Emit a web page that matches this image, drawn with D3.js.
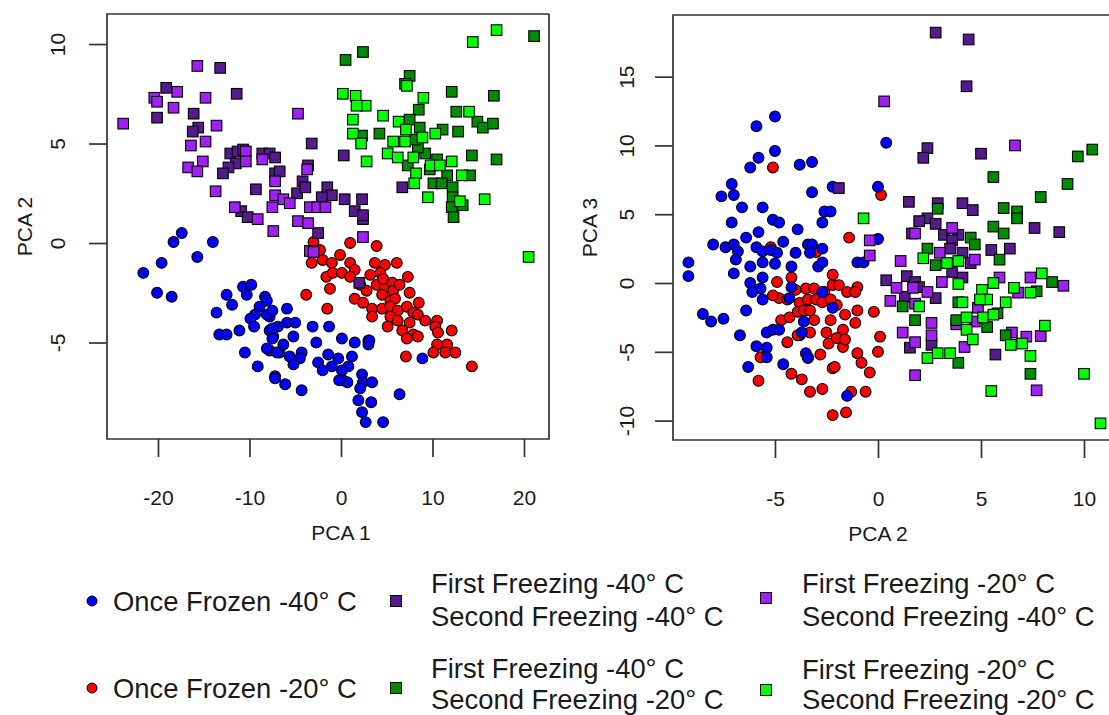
<!DOCTYPE html>
<html><head><meta charset="utf-8">
<script src="https://cdn.jsdelivr.net/npm/d3@7"></script>
<style>
html,body{margin:0;padding:0;background:#fff;}
svg text{font-family:"Liberation Sans",Arial,sans-serif;fill:#1a1a1a;}
</style></head>
<body><svg id="chart" width="1109" height="715"></svg>
<script>
// ---------------- DATA ----------------
// Left panel: [PCA 1, PCA 2]
const leftOnce40 = [[-5.9,-3.3],[-5.9,-4.0],[-5.0,-4.0],[-6.9,-4.2],[-7.8,-3.7],[-7.8,-4.4],[-3.1,-4.2],[-1.3,-4.2],[-7.4,-4.7],[-5.2,-4.7],[-6.3,-5.1],[-2.7,-5.0],[0.1,-4.8],[1.5,-5.0],[3.0,-5.1],[3.1,-4.9],[-7.8,-5.4],[-6.7,-5.5],[-5.6,-5.7],[-4.3,-5.5],[-4.5,-5.8],[-5.2,-6.1],[-2.5,-6.0],[-1.4,-5.6],[-0.3,-5.8],[1.2,-5.7],[0.8,-6.2],[0.1,-6.4],[-1.0,-6.2],[-2.0,-6.4],[0.2,-6.9],[0.7,-7.0],[-0.2,-6.9],[2.3,-6.6],[2.4,-7.0],[3.4,-7.0],[2.1,-7.3],[-7.2,-6.7],[-6.1,-7.1],[-4.3,-7.4],[6.4,-7.6],[1.9,-7.9],[3.3,-8.0],[2.3,-8.5],[2.7,-9.0],[4.6,-9.0],[8.9,-5.8],[-17.4,0.5],[-18.3,0.05],[-14.0,0.05],[-15.7,-0.7],[-19.6,-1.0],[-21.6,-1.5],[-20.1,-2.5],[-18.5,-2.7],[-12.5,-2.6],[-11.9,-3.1],[-10.7,-2.2],[-9.8,-2.1],[-10.3,-2.6],[-13.6,-3.5],[-8.3,-2.7],[-8.1,-2.9],[-8.9,-3.2],[-9.4,-3.6],[-9.9,-3.8],[-9.5,-4.2],[-8.1,-3.6],[-7.5,-3.4],[-13.3,-4.6],[-12.5,-4.6],[-11.1,-4.4],[-7.5,-4.3],[-7.5,-4.8],[-10.5,-5.5],[-8.1,-5.3],[-7.0,-5.5],[-9.1,-6.2],[-7.2,-6.8]];
const leftOnce20 = [[1.0,0.0],[3.9,-0.15],[-3.0,0.05],[-3.2,-1.0],[-2.0,-0.85],[-1.0,-1.0],[-1.6,-1.7],[-0.9,-1.5],[0.1,-1.5],[1.0,-1.0],[1.5,-1.35],[1.0,-1.7],[-1.2,-2.3],[-3.8,-2.6],[-1.5,-3.3],[3.7,-1.0],[4.8,-1.1],[6.1,-1.0],[4.3,-1.5],[3.2,-1.6],[3.9,-2.1],[4.8,-2.2],[5.6,-2.0],[7.3,-1.7],[5.7,-2.4],[7.5,-2.5],[1.5,-2.8],[2.4,-3.0],[4.5,-2.6],[5.4,-2.9],[5.9,-2.8],[3.4,-3.3],[4.5,-3.3],[5.4,-3.2],[6.2,-3.4],[7.2,-3.2],[7.9,-3.5],[8.5,-3.0],[3.4,-3.7],[5.4,-3.7],[6.2,-3.9],[8.4,-3.6],[5.1,-4.2],[6.7,-4.4],[7.5,-4.0],[7.9,-4.6],[8.4,-4.7],[7.2,-4.8],[10.5,-3.9],[10.3,-4.2],[12.1,-4.4],[10.6,-4.5],[10.5,-5.1],[11.6,-5.1],[11.4,-5.5],[12.5,-5.5],[10.1,-5.5],[7.1,-5.7],[14.3,-6.2],[3.0,-4.9],[-2.3,-0.35],[-0.1,-0.6],[2.1,-2.1],[2.8,-2.4],[4.6,-1.8],[6.4,-2.1],[9.2,-3.9]];
const leftFF40SF40 = [[-13.2,8.8],[-19.1,7.8],[-11.4,7.5],[-20.1,6.3],[-16.1,6.5],[-15.6,5.8],[-16.2,5.6],[-12.1,4.5],[-11.3,4.6],[-10.7,4.7],[-11.5,4.0],[-12.3,3.8],[-12.9,3.5],[-8.6,4.5],[-7.8,4.5],[-7.2,3.5],[-9.3,2.7],[-10.9,1.6],[-10.2,1.3],[-2.5,0.5],[2.4,1.2],[2.0,-2.0],[-3.2,5.0],[0.3,4.4],[-7.2,4.3],[-6.7,3.6],[-3.6,3.9],[-4.2,3.1],[-4.8,2.5],[-3.9,2.8],[-1.5,2.8],[-1.0,2.4],[-2.1,2.3],[0.4,2.2],[2.3,2.2],[1.5,1.6],[2.4,1.4],[6.7,2.8]];
const leftFF20SF40 = [[-15.7,8.9],[-17.9,7.6],[-20.4,7.3],[-20.1,7.1],[-14.8,7.3],[-18.3,6.8],[-23.8,6.0],[-13.6,5.9],[-14.8,5.1],[-16.4,4.9],[-10.4,4.6],[-10.4,4.1],[-15.1,4.1],[-16.7,3.8],[-15.7,3.6],[-8.6,4.2],[-13.7,2.6],[-7.2,3.1],[-7.2,2.4],[-11.6,1.8],[-9.1,1.2],[-7.5,1.8],[-7.4,0.6],[-4.7,6.5],[-3.7,3.7],[-6.3,2.2],[-5.6,2.0],[-3.4,1.8],[-2.6,1.8],[-1.7,1.8],[-4.7,1.1],[-3.6,1.0],[2.4,0.3],[-3.4,-0.4],[-3.0,-0.45]];
const leftFF40SF20 = [[0.5,9.2],[2.4,9.6],[21.1,10.4],[7.5,8.4],[7.0,8.0],[12.1,7.6],[16.7,7.4],[8.5,6.7],[12.6,6.6],[14.9,6.1],[15.5,5.8],[16.6,6.0],[7.5,6.2],[4.2,5.5],[2.3,5.4],[8.6,5.8],[11.1,5.7],[12.8,5.6],[9.2,4.5],[8.4,4.8],[14.3,4.4],[17.0,4.2],[7.3,3.9],[10.5,4.2],[14.1,3.4],[11.6,3.4],[10.1,3.0],[11.0,3.0],[12.2,2.8],[12.2,2.3],[12.1,1.8],[13.3,1.9],[12.3,1.3],[8.1,5.2],[9.7,3.7]];
const leftFF20SF20 = [[14.4,10.1],[17.0,10.7],[7.2,7.9],[0.2,7.5],[1.6,7.4],[2.7,6.9],[1.7,6.9],[9.0,7.3],[14.0,6.6],[4.6,6.4],[1.3,6.2],[6.3,6.1],[1.3,5.5],[2.2,5.0],[7.1,5.7],[7.0,5.1],[8.9,5.3],[10.3,5.5],[5.7,5.1],[5.1,4.5],[6.2,4.3],[7.9,4.3],[2.8,4.1],[12.1,4.1],[9.8,3.9],[10.8,3.9],[8.2,3.5],[13.2,3.4],[8.0,3.0],[13.0,2.1],[9.5,2.3],[15.7,2.2],[20.5,-0.7]];

// Right panel: [PCA 2, PCA 3]
const rightOnce40 = [[-5.0,12.1],[-5.9,11.4],[-5.0,9.6],[-5.8,9.1],[-6.2,8.4],[-3.8,8.6],[-3.2,8.8],[-7.1,7.2],[-7.6,6.3],[-7.0,6.4],[-6.6,5.5],[-5.6,5.5],[-3.2,6.6],[-2.2,7.0],[-2.6,5.2],[-2.7,4.4],[-5.1,4.6],[-4.8,4.4],[-7.1,4.4],[-5.8,3.7],[-3.9,3.9],[-6.4,3.3],[-8.0,2.8],[-7.4,2.6],[-7.0,2.8],[-6.8,2.3],[-5.9,2.6],[-5.6,2.3],[-5.2,2.4],[-4.9,2.2],[-4.6,3.0],[-4.0,2.2],[-3.4,2.8],[-3.2,2.8],[-3.3,2.2],[-2.7,2.5],[-6.9,1.7],[-9.2,1.5],[-9.2,0.5],[-6.2,1.2],[-5.6,1.5],[-5.0,1.4],[-4.2,1.2],[-2.9,1.2],[-2.7,1.5],[-7.0,0.7],[-6.2,0.0],[-5.6,0.4],[-5.7,-0.4],[-5.6,-1.2],[-6.1,-0.65],[-4.2,-0.3],[-4.3,-1.1],[-2.7,-0.65],[-6.4,-2.0],[-8.5,-2.25],[-8.1,-2.8],[-7.5,-2.6],[-6.7,-3.8],[-5.4,-3.6],[-5.1,-3.4],[-4.8,-3.4],[-3.6,-2.8],[-3.7,-3.6],[-5.9,-4.6],[-5.4,-4.7],[-5.4,-5.4],[-3.5,-5.1],[-3.4,-5.4],[-6.3,-6.1],[-4.6,-5.9],[0.4,10.2],[0.0,7.0],[0.0,3.2],[-1.0,1.5],[-0.7,1.5],[-2.2,-1.8],[-1.5,-8.2],[-2.3,5.2]];
const rightOnce20 = [[-5.1,8.4],[0.15,6.4],[-1.4,3.3],[-5.2,2.6],[-3.0,2.25],[-4.9,0.07],[-4.2,0.4],[-3.5,-0.4],[-3.1,-0.4],[-2.6,-0.65],[-2.2,-0.15],[-4.8,-1.1],[-4.4,-1.2],[-3.8,-1.45],[-3.4,-1.2],[-3.0,-1.2],[-2.7,-1.4],[-2.0,-1.6],[-4.7,-2.7],[-4.3,-2.5],[-3.9,-2.1],[-3.6,-2.0],[-3.3,-2.0],[-3.8,-3.8],[-3.3,-3.6],[-4.4,-4.3],[-3.9,-3.8],[-2.5,-3.6],[-2.4,-4.4],[-2.2,-6.2],[-3.4,-5.45],[-5.7,-5.4],[-4.2,-6.6],[-3.7,-7.0],[-5.8,-7.1],[-3.3,-7.9],[-2.7,-7.7],[-2.2,0.6],[-1.9,-0.15],[-1.5,-0.65],[-1.0,-0.3],[-1.1,-0.65],[-0.2,-2.1],[-1.0,-2.0],[-1.1,-2.9],[-1.7,-3.4],[-2.0,-4.0],[-1.7,-4.65],[-1.6,-4.1],[0.1,-3.9],[0.0,-5.0],[-1.0,-5.1],[-0.8,-5.8],[-2.1,-6.1],[-0.4,-6.5],[-0.6,-7.9],[-1.3,-7.9],[-1.55,-9.4],[-2.2,-9.6],[-2.3,-1.2],[-5.1,-0.9],[-4.0,-0.5],[-3.1,-2.7],[-2.3,-2.7],[-1.6,-2.3],[-2.8,-5.2]];
const rightFF40SF40 = [[2.8,18.2],[4.4,17.7],[4.3,14.3],[2.4,9.8],[2.2,9.1],[5.0,9.4],[-1.9,6.9],[1.5,5.9],[2.9,5.8],[4.1,5.8],[4.6,5.3],[2.4,4.7],[2.0,4.5],[2.8,4.3],[7.6,4.0],[8.8,3.7],[3.2,3.5],[3.9,3.5],[1.65,3.6],[3.6,3.1],[3.5,2.5],[5.5,2.4],[6.4,2.5],[4.1,2.2],[4.5,1.45],[4.1,0.4],[3.6,0.8],[1.4,0.5],[0.4,0.2],[1.8,0.07],[2.0,-0.3],[2.8,-1.1],[1.3,-1.0],[1.55,-4.7],[5.7,-5.2],[2.6,-4.5]];
const rightFF20SF40 = [[0.3,13.2],[6.65,10.0],[3.6,4.0],[1.8,3.6],[-0.4,3.1],[-0.4,2.0],[3.0,2.2],[4.7,1.7],[1.1,1.6],[0.9,-0.35],[1.7,-0.35],[2.4,-0.65],[3.1,0.07],[0.6,-1.3],[1.8,-1.5],[2.6,-2.9],[2.6,-3.8],[1.2,-3.6],[1.8,-4.3],[4.2,-4.65],[3.8,-3.0],[4.7,-2.8],[4.85,-1.8],[5.9,0.4],[6.8,-0.7],[7.4,0.4],[9.0,-0.2],[6.5,-3.6],[7.2,-3.9],[7.9,-3.85],[7.7,-7.8],[1.8,-6.7]];
const rightFF40SF20 = [[10.4,9.7],[9.7,9.2],[5.6,7.7],[9.2,7.2],[7.9,6.25],[2.9,5.4],[6.1,5.45],[6.75,5.2],[6.75,4.7],[5.6,4.1],[6.1,3.6],[4.5,3.3],[4.7,2.8],[5.9,1.7],[2.4,2.5],[2.8,1.3],[8.45,0.07],[7.7,-0.6],[1.2,-1.7],[1.8,-2.7],[3.9,-5.8],[3.9,-1.4],[3.8,-2.7],[5.3,-3.2],[5.8,-2.2],[6.2,-3.8],[7.4,-6.6]];
const rightFF20SF20 = [[-0.7,4.7],[2.2,1.8],[3.35,1.45],[3.9,1.6],[3.9,-0.07],[2.0,-1.7],[2.4,-5.45],[2.9,-5.1],[3.5,-5.1],[4.3,-3.4],[4.3,-2.5],[4.6,-4.1],[4.1,-1.4],[5.05,-0.5],[5.3,-1.2],[4.95,-1.2],[5.1,-2.5],[5.6,-2.3],[6.2,-1.4],[5.6,0],[6.6,-0.35],[7.4,-0.7],[7.95,0.7],[6.45,-4.5],[7.0,-4.4],[7.4,-5.3],[8.1,-3.1],[5.5,-7.85],[10.0,-6.6],[10.8,-10.2]];

// ticks and labels
const leftXTicks = [-20,-10,0,10,20];
const leftYTicks = [-5,0,5,10];
const rightXTicks = [-5,0,5,10];
const rightYTicks = [-10,-5,0,5,10,15];
const leftXTitle = "PCA 1", leftYTitle = "PCA 2";
const rightXTitle = "PCA 2", rightYTitle = "PCA 3";

const groupNames = ["Once Frozen -40° C","Once Frozen -20° C",
  "First Freezing -40° C|Second Freezing -40° C","First Freezing -40° C|Second Freezing -20° C",
  "First Freezing -20° C|Second Freezing -40° C","First Freezing -20° C|Second Freezing -20° C"];
const groupColors = ["#0000FF","#FF0000","#551A8B","#008B00","#A020F0","#00FF00"];
const groupShapes = ["circle","circle","square","square","square","square"];

// ---------------- DRAW ----------------
const svg = d3.select("#chart");
const FONT = 21;
const fmt = d => String(d); // plain hyphen-minus as in the reference

function panel(cfg){
  const g = svg.append("g");
  const x = d3.scaleLinear().domain(cfg.xDom).range([cfg.left, cfg.right]);
  const y = d3.scaleLinear().domain(cfg.yDom).range([cfg.bottom, cfg.top]);

  cfg.sets.forEach(s=>{
    const gg = g.append("g");
    if (groupShapes[s.gi]==="circle"){
      gg.selectAll("circle").data(s.data).join("circle")
        .attr("cx",d=>x(d[0])).attr("cy",d=>y(d[1])).attr("r",5.4)
        .attr("fill",groupColors[s.gi]).attr("stroke","#000").attr("stroke-width",1.1);
    } else {
      gg.selectAll("rect").data(s.data).join("rect")
        .attr("x",d=>x(d[0])-5.3).attr("y",d=>y(d[1])-5.3).attr("width",10.6).attr("height",10.6)
        .attr("fill",groupColors[s.gi]).attr("stroke","#000").attr("stroke-width",1.1);
    }
  });

  g.append("path")
    .attr("d",`M${cfg.boxRight},${cfg.top}H${cfg.left}V${cfg.bottom}H${cfg.boxRight}` + (cfg.boxClosed?`V${cfg.top}`:""))
    .attr("fill","none").attr("stroke","#333").attr("stroke-width",1.7);

  const xa = g.append("g").attr("transform",`translate(0,${cfg.bottom})`)
    .call(d3.axisBottom(x).tickValues(cfg.xTicks).tickSize(18).tickPadding(0).tickFormat(fmt));
  xa.select(".domain").remove();
  xa.selectAll("line").attr("stroke","#333").attr("stroke-width",1.7);
  xa.selectAll("text").attr("y",59).attr("dy","0.35em").style("font-size",FONT+"px").attr("fill","#1a1a1a");

  const ya = g.append("g").attr("transform",`translate(${cfg.left},0)`)
    .call(d3.axisLeft(y).tickValues(cfg.yTicks).tickSize(18).tickFormat(fmt));
  ya.select(".domain").remove();
  ya.selectAll("line").attr("stroke","#333").attr("stroke-width",1.7);
  ya.selectAll("text").attr("x",null).attr("dy","0.35em")
    .attr("transform",`translate(${-cfg.yLabOff},0) rotate(-90)`)
    .attr("text-anchor","middle").style("font-size",FONT+"px").attr("fill","#1a1a1a");

  g.append("text").attr("x",(cfg.left+cfg.xTitleCenter)).attr("y",cfg.bottom+94).attr("dy","0.35em")
    .attr("text-anchor","middle").style("font-size",FONT+"px").text(cfg.xTitle);
  g.append("text").attr("transform",`translate(${cfg.yTitleX},${(cfg.top+cfg.bottom)/2}) rotate(-90)`)
    .attr("dy","0.35em").attr("text-anchor","middle").style("font-size",FONT+"px").text(cfg.yTitle);
}

panel({
  left:107, right:549, top:14, bottom:439, boxRight:549, boxClosed:true,
  xDom:[-25.57,22.73], yDom:[-9.85,11.51],
  xTicks:leftXTicks, yTicks:leftYTicks, yLabOff:49,
  xTitle:leftXTitle, yTitle:leftYTitle, xTitleCenter:234, yTitleX:25,
  sets:[{gi:1,data:leftOnce20},{gi:0,data:leftOnce40},{gi:2,data:leftFF40SF40},{gi:4,data:leftFF20SF40},{gi:3,data:leftFF40SF20},{gi:5,data:leftFF20SF20}]
});
panel({
  left:673, right:1125, top:15, bottom:440, boxRight:1130, boxClosed:false,
  xDom:[-9.95,11.99], yDom:[-11.41,19.48],
  xTicks:rightXTicks, yTicks:rightYTicks, yLabOff:46,
  xTitle:rightXTitle, yTitle:rightYTitle, xTitleCenter:205, yTitleX:590,
  sets:[{gi:1,data:rightOnce20},{gi:0,data:rightOnce40},{gi:2,data:rightFF40SF40},{gi:4,data:rightFF20SF40},{gi:3,data:rightFF40SF20},{gi:5,data:rightFF20SF20}]
});

// ---------------- LEGEND ----------------
const LF = 27.4;
const legendItems = [
  {gi:0, sx:92, sy:601, tx:113, ty:[601]},
  {gi:1, sx:92, sy:688, tx:113, ty:[688]},
  {gi:2, sx:396, sy:601, tx:431, ty:[583,616]},
  {gi:3, sx:396, sy:688, tx:431, ty:[668,699]},
  {gi:4, sx:766, sy:598, tx:802, ty:[583,616]},
  {gi:5, sx:766, sy:690, tx:802, ty:[669,699]}
];
const lg = svg.append("g");
legendItems.forEach(it=>{
  if (groupShapes[it.gi]==="circle"){
    lg.append("circle").attr("cx",it.sx).attr("cy",it.sy).attr("r",5)
      .attr("fill",groupColors[it.gi]).attr("stroke","#000").attr("stroke-width",1);
  } else {
    lg.append("rect").attr("x",it.sx-5.5).attr("y",it.sy-5.5).attr("width",11).attr("height",11)
      .attr("fill",groupColors[it.gi]).attr("stroke","#000").attr("stroke-width",1);
  }
  const lines = groupNames[it.gi].split("|");
  lines.forEach((ln,i)=>{
    lg.append("text").attr("x",it.tx).attr("y",it.ty[i]).attr("dy","0.35em")
      .style("font-size",LF+"px").attr("fill","#000").text(ln);
  });
});
</script></body></html>
